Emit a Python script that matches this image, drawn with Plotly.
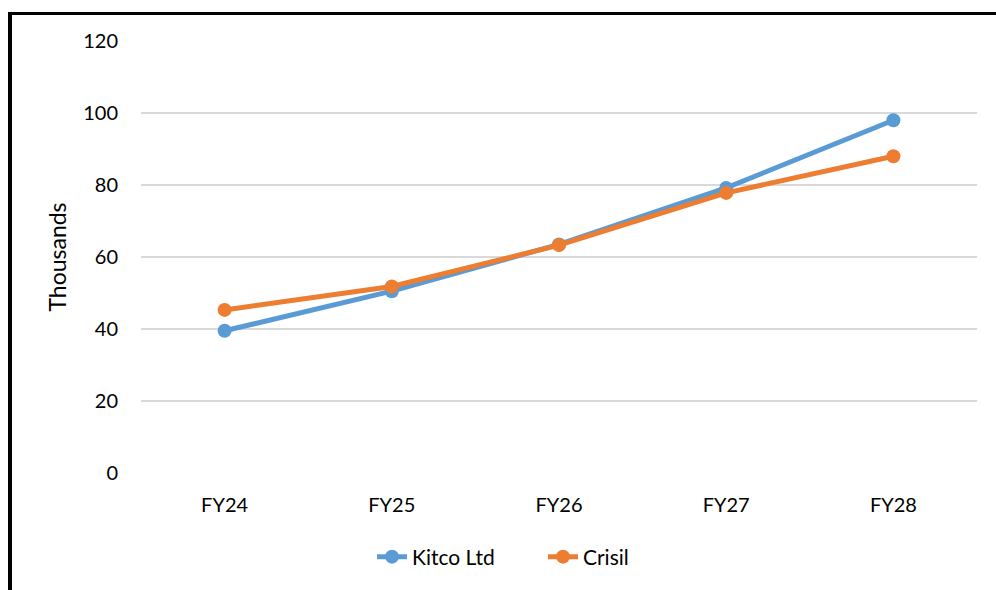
import plotly.graph_objects as go

categories = ["FY24", "FY25", "FY26", "FY27", "FY28"]
kitco = [39.5, 50.5, 63.5, 79.2, 98.0]
crisil = [45.3, 51.8, 63.3, 77.8, 88.0]
y_ticks = [0, 20, 40, 60, 80, 100, 120]

FONT = "Lato"
W, H = 996, 590
L, R, T, B = 141, 19, 41, 117
pw, ph = W - L - R, H - T - B

def px_x(p):
    return (p - L) / pw

def px_y(p):
    return (H - B - p) / ph

fig = go.Figure()
fig.add_trace(go.Scatter(x=categories, y=kitco, name="Kitco Ltd", mode="lines+markers",
                         line=dict(color="#5B9BD5", width=5),
                         marker=dict(color="#5B9BD5", size=14)))
fig.add_trace(go.Scatter(x=categories, y=crisil, name="Crisil", mode="lines+markers",
                         line=dict(color="#ED7D31", width=5),
                         marker=dict(color="#ED7D31", size=14)))

fig.update_layout(
    width=W, height=H,
    margin=dict(l=L, r=R, t=T, b=B),
    plot_bgcolor="white", paper_bgcolor="white",
    font=dict(family=FONT, size=20, color="#000000"),
    showlegend=True,
    legend=dict(orientation="h", x=px_x(372), xanchor="left", y=px_y(557), yanchor="middle",
                font=dict(size=21), traceorder="normal", entrywidth=126,
                entrywidthmode="pixels"),
    xaxis=dict(type="category", range=[-0.5, 4.5], showgrid=False, zeroline=False,
               showline=False, ticks="", ticklabelstandoff=18, automargin=False,
               tickfont=dict(size=20)),
    yaxis=dict(range=[0, 120], tickvals=y_ticks, showgrid=True, gridcolor="#D9D9D9",
               gridwidth=1.5, zeroline=False, showline=False, ticks="",
               ticklabelstandoff=22, automargin=False, tickfont=dict(size=20),
               title=dict(text="Thousands", standoff=10, font=dict(size=23))),
    shapes=[
        dict(type="line", xref="paper", yref="paper", x0=px_x(10), x1=px_x(10),
             y0=px_y(12), y1=px_y(600), line=dict(color="black", width=4)),
        dict(type="line", xref="paper", yref="paper", x0=px_x(8), x1=px_x(1000),
             y0=px_y(13.5), y1=px_y(13.5), line=dict(color="black", width=3)),
    ],
)

fig.write_html("out.html")
